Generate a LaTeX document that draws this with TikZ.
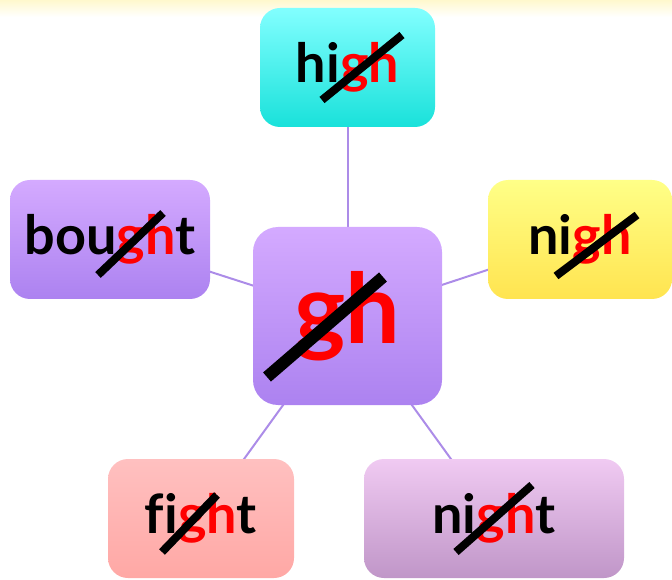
\documentclass[tikz,border=0pt]{standalone}
\usepackage{fontspec}
\setmainfont{Lato}[Ligatures=NoCommon]
\usetikzlibrary{backgrounds}
\definecolor{bandyellow}{RGB}{255,248,205}
\definecolor{linkpurple}{RGB}{172,140,232}
\definecolor{cyantop}{RGB}{130,255,255}
\definecolor{cyanbot}{RGB}{25,225,218}
\definecolor{lilactop}{RGB}{212,170,255}
\definecolor{lilacbot}{RGB}{172,130,240}
\definecolor{yellowtop}{RGB}{255,255,135}
\definecolor{yellowbot}{RGB}{255,228,80}
\definecolor{rosetop}{RGB}{255,192,192}
\definecolor{rosebot}{RGB}{255,168,165}
\definecolor{mauvetop}{RGB}{240,202,242}
\definecolor{mauvebot}{RGB}{192,150,200}
\definecolor{ghred}{RGB}{255,0,0}
\begin{document}
\begin{tikzpicture}[x=1pt,y=1pt,
    wordbox/.style={rounded corners=20pt, minimum height=119pt, inner sep=0pt,
      font=\bfseries\fontsize{54}{60}\selectfont},
    link/.style={draw=linkpurple, line width=2pt},
    cut/.style={draw=black, line width=8pt}]
  \useasboundingbox (0,0) rectangle (672,579);
  \node[wordbox, minimum width=189pt, minimum height=178pt, rounded corners=25pt,
    top color=lilactop, bottom color=lilacbot, text=ghred,
    font=\bfseries\fontsize{97}{100}\selectfont] (gh) at (347.5,263) {gh};
  \node[wordbox, minimum width=175pt, top color=cyantop, bottom color=cyanbot] (high) at (347.5,511.5) {hi\textcolor{ghred}{gh}};
  \node[wordbox, minimum width=200pt, top color=lilactop, bottom color=lilacbot] (bought) at (110,339.5) {bou\textcolor{ghred}{gh}t};
  \node[wordbox, minimum width=184pt, top color=yellowtop, bottom color=yellowbot] (nigh) at (580,339.5) {ni\textcolor{ghred}{gh}};
  \node[wordbox, minimum width=186pt, top color=rosetop, bottom color=rosebot] (fight) at (201,60.5) {fi\textcolor{ghred}{gh}t};
  \node[wordbox, minimum width=260pt, top color=mauvetop, bottom color=mauvebot] (night) at (494,60.5) {ni\textcolor{ghred}{gh}t};
  \draw[cut] ([shift={(-80.5,-61)}]gh.center) -- ([shift={(35.5,39)}]gh.center) [line width=12pt];
  \foreach \nm/\a/\b in {high/{-25.5,-32.5}/{54.5,32.5}, bought/{-12,-35.5}/{53,26.5},
      nigh/{-24,-36.5}/{57,24.5}, fight/{-39,-33.5}/{16,23.5}, night/{-38,-33.5}/{38,33.5}}
    \draw[cut] ([shift={(\a)}]\nm.center) -- ([shift={(\b)}]\nm.center);
  \begin{scope}[on background layer]
    \shade[top color=bandyellow, bottom color=white] (0,562) rectangle (672,579);
    \foreach \nm in {high,bought,nigh,fight,night}
      \draw[link] (gh.center) -- (\nm.center);
  \end{scope}
\end{tikzpicture}
\end{document}
